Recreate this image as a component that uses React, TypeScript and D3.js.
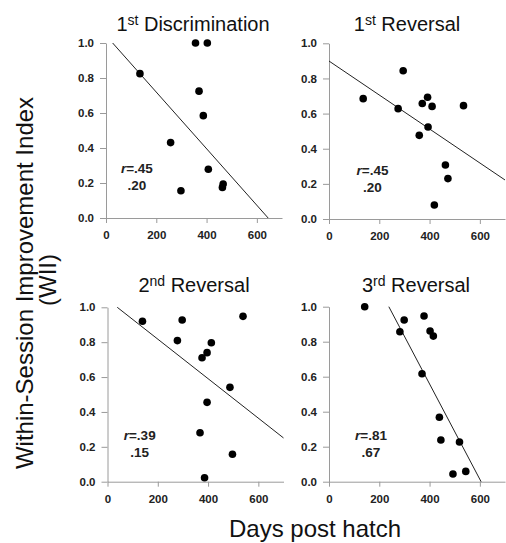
import React, { useRef, useEffect } from 'react';
import * as d3 from 'd3';

// days post hatch / WII for each phase
const discDays = [135, 356, 403, 370, 387, 257, 407, 466, 463, 298];
const discWii = [0.825, 1.0, 1.0, 0.725, 0.585, 0.431, 0.279, 0.194, 0.175, 0.156];

const rev1Days = [136, 295, 275, 371, 392, 410, 394, 359, 535, 463, 473, 419];
const rev1Wii = [0.685, 0.844, 0.628, 0.657, 0.693, 0.641, 0.524, 0.476, 0.645, 0.307, 0.23, 0.08];

const rev2Days = [139, 297, 278, 539, 413, 396, 376, 487, 396, 368, 497, 386];
const rev2Wii = [0.92, 0.927, 0.809, 0.948, 0.797, 0.74, 0.711, 0.541, 0.455, 0.281, 0.157, 0.023];

const rev3Days = [142, 282, 299, 378, 402, 415, 370, 439, 445, 519, 493, 544];
const rev3Wii = [1.0, 0.857, 0.924, 0.947, 0.861, 0.832, 0.617, 0.368, 0.238, 0.227, 0.044, 0.059];

// fitted lines (intercept, slope) and stats as printed
const intercepts = [1.0428, 0.899, 1.044, 1.6485];
const slopes = [-0.001617, -0.000967, -0.001133, -0.002725];
const rLabels = ['.45', '.45', '.39', '.81'];
const r2Labels = ['.20', '.20', '.15', '.67'];

const ordinals = ['1', '1', '2', '3'];
const suffixes = ['st', 'st', 'nd', 'rd'];
const titleWords = ['Discrimination', 'Reversal', 'Reversal', 'Reversal'];

const xTicks = [0, 200, 400, 600];
const yTicks = [0, 0.2, 0.4, 0.6, 0.8, 1.0];

const series = [
  { days: discDays, wii: discWii },
  { days: rev1Days, wii: rev1Wii },
  { days: rev2Days, wii: rev2Wii },
  { days: rev3Days, wii: rev3Wii },
];

// where each small plot sits on the page
const layout = [
  { left: 106, top: 43, bottom: 218, titleX: 193, titleY: 31, rX: 123, rY: 0.257 },
  { left: 329, top: 43.3, bottom: 219, titleX: 407, titleY: 31, rX: 173, rY: 0.25 },
  { left: 107.5, top: 307.3, bottom: 481.7, titleX: 194, titleY: 292, rX: 128, rY: 0.24 },
  { left: 329, top: 306.7, bottom: 481.7, titleX: 416, titleY: 292, rX: 167, rY: 0.24 },
];

const App = () => {
  const svgRef = useRef<SVGSVGElement | null>(null);

  useEffect(() => {
    const svg = d3.select(svgRef.current);
    svg.selectAll('*').remove();

    const font = 'Arial, "Liberation Sans", sans-serif';
    const axisColor = '#9a9a9a';
    const plotWidth = 176;

    layout.forEach((p, i) => {
      const x = d3.scaleLinear().domain([0, 700]).range([p.left, p.left + plotWidth]);
      const y = d3.scaleLinear().domain([0, 1]).range([p.bottom, p.top]);
      const g = svg.append('g');

      // x axis
      const xAxis = g.append('g')
        .attr('transform', `translate(0,${p.bottom})`)
        .call(d3.axisBottom(x).tickValues(xTicks).tickSize(5).tickSizeOuter(0).tickPadding(8).tickFormat(d3.format('d')));
      xAxis.select('.domain').attr('stroke', axisColor);
      xAxis.selectAll('line').attr('stroke', axisColor);
      xAxis.selectAll('text')
        .attr('fill', '#222')
        .style('font-family', font)
        .style('font-size', '11.5px')
        .style('font-weight', 'bold');

      // y axis
      const yAxis = g.append('g')
        .attr('transform', `translate(${p.left},0)`)
        .call(d3.axisLeft(y).tickValues(yTicks).tickSize(6).tickSizeOuter(0).tickPadding(6).tickFormat(d3.format('.1f')));
      yAxis.select('.domain').attr('stroke', axisColor);
      yAxis.selectAll('line').attr('stroke', axisColor);
      yAxis.selectAll('text')
        .attr('fill', '#222')
        .style('font-family', font)
        .style('font-size', '11.5px')
        .style('font-weight', 'bold');

      // regression line, clipped to the 0..1 box
      const a = intercepts[i];
      const b = slopes[i];
      const x0 = Math.max(0, (1 - a) / b);
      const x1 = Math.min(700, -a / b);
      g.append('line')
        .attr('x1', x(x0))
        .attr('y1', y(a + b * x0))
        .attr('x2', x(x1))
        .attr('y2', y(a + b * x1))
        .attr('stroke', '#222')
        .attr('stroke-width', 1);

      // points
      const pts = series[i].days.map((d, k) => ({ d, v: series[i].wii[k] }));
      g.selectAll('circle')
        .data(pts)
        .enter()
        .append('circle')
        .attr('cx', d => x(d.d))
        .attr('cy', d => y(d.v))
        .attr('r', 3.8)
        .attr('fill', '#000');

      // title with superscript
      const title = g.append('text')
        .attr('x', p.titleX)
        .attr('y', p.titleY)
        .attr('text-anchor', 'middle')
        .style('font-family', font)
        .style('font-size', '20px')
        .attr('fill', '#111');
      title.append('tspan').text(ordinals[i]);
      title.append('tspan').attr('dy', -6).style('font-size', '14px').text(suffixes[i]);
      title.append('tspan').attr('dy', 6).text(' ' + titleWords[i]);

      // r and r^2
      const rText = g.append('text')
        .attr('x', x(p.rX))
        .attr('y', y(p.rY))
        .attr('text-anchor', 'middle')
        .style('font-family', font)
        .style('font-size', '13.5px')
        .style('font-weight', 'bold')
        .attr('fill', '#222');
      rText.append('tspan').style('font-style', 'italic').text('r');
      rText.append('tspan').text('=' + rLabels[i]);

      g.append('text')
        .attr('x', x(p.rX))
        .attr('y', y(p.rY) + 17)
        .attr('text-anchor', 'middle')
        .style('font-family', font)
        .style('font-size', '13.5px')
        .style('font-weight', 'bold')
        .attr('fill', '#222')
        .text(r2Labels[i]);
    });

    // shared axis labels
    svg.append('text')
      .attr('transform', 'translate(33,283) rotate(-90)')
      .attr('text-anchor', 'middle')
      .style('font-family', font)
      .style('font-size', '24px')
      .attr('fill', '#111')
      .text('Within-Session Improvement Index');

    svg.append('text')
      .attr('transform', 'translate(56,280) rotate(-90)')
      .attr('text-anchor', 'middle')
      .style('font-family', font)
      .style('font-size', '24px')
      .attr('fill', '#111')
      .text('(WII)');

    svg.append('text')
      .attr('x', 315)
      .attr('y', 537)
      .attr('text-anchor', 'middle')
      .style('font-family', font)
      .style('font-size', '24px')
      .attr('fill', '#111')
      .text('Days post hatch');
  }, []);

  return (
    <svg
      ref={svgRef}
      width={506}
      height={543}
      style={{ position: 'absolute', left: 0, top: 0, background: '#fff' }}
    />
  );
};

export default App;
